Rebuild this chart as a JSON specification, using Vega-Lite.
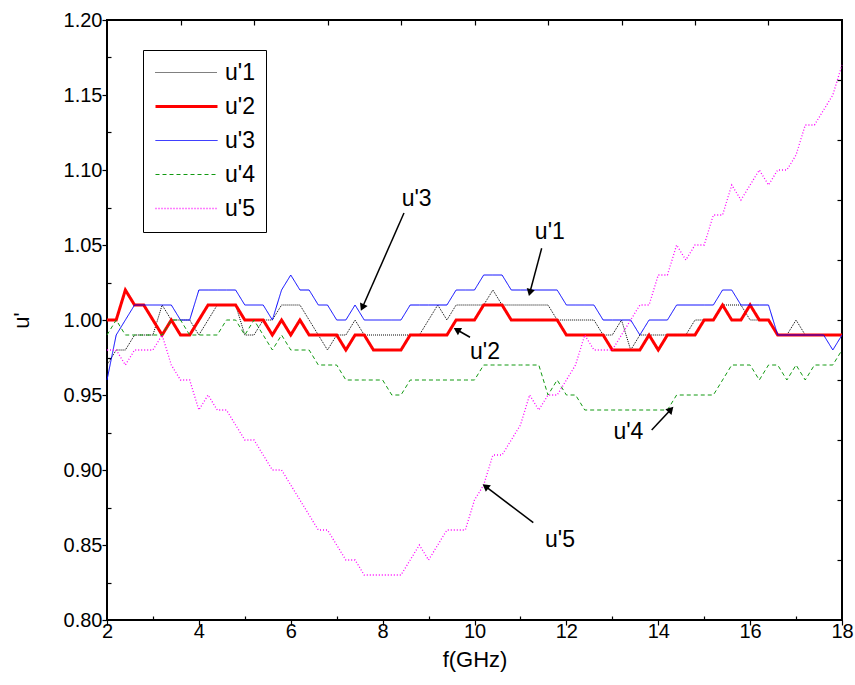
{
  "$schema": "https://vega.github.io/schema/vega-lite/v6.json",
  "width": 735,
  "height": 600,
  "autosize": "none",
  "padding": {"left": 107, "top": 20, "right": 13, "bottom": 65},
  "background": "white",
  "config": {
    "font": "Liberation Sans",
    "view": {"stroke": "black", "strokeWidth": 2},
    "axis": {"grid": false, "domain": false, "tickColor": "black", "labelColor": "black", "labelFont": "Liberation Sans", "labelFontSize": 20, "titleFont": "Liberation Sans", "titleFontSize": 22, "titleFontWeight": "normal", "titleColor": "black", "tickWidth": 1.2},
    "legend": {"orient": "none", "legendX": 36, "legendY": 30, "strokeColor": "black", "fillColor": "white", "padding": 11, "symbolType": "M-1,0H5.2", "symbolSize": 400, "labelFontSize": 23, "labelFont": "Liberation Sans", "labelColor": "black", "labelOffset": 48, "rowPadding": 10, "title": null}
  },
  "datasets": {
    "ann": [
      {"label": "u'3", "tx": 8.74, "ty": 1.0805, "x1": 8.465, "y1": 1.0713, "x2": 7.559, "y2": 1.0083},
      {"label": "u'1", "tx": 11.64, "ty": 1.0589, "x1": 11.462, "y1": 1.0478, "x2": 11.205, "y2": 1.0183},
      {"label": "u'2", "tx": 10.23, "ty": 0.9789, "x1": 9.902, "y1": 0.9885, "x2": 9.616, "y2": 0.9935},
      {"label": "u'4", "tx": 13.35, "ty": 0.9251, "x1": 13.857, "y1": 0.9267, "x2": 14.275, "y2": 0.9404},
      {"label": "u'5", "tx": 11.86, "ty": 0.8533, "x1": 11.28, "y1": 0.8649, "x2": 10.239, "y2": 0.8891}
    ]
  },
  "resolve": {"axis": {"x": "independent", "y": "independent"}},
  "layer": [
    {
      "data": {"values": [
        {"f":2.0,"u1":0.97,"u2":1.00,"u3":0.96,"u4":0.99,"u5":0.98},
        {"f":2.2,"u1":0.98,"u2":1.00,"u3":0.99,"u4":1.00,"u5":0.98},
        {"f":2.4,"u1":0.98,"u2":1.02,"u3":1.00,"u4":0.99,"u5":0.97},
        {"f":2.6,"u1":0.99,"u2":1.01,"u3":1.01,"u4":0.99,"u5":0.98},
        {"f":2.8,"u1":0.99,"u2":1.01,"u3":1.01,"u4":0.99,"u5":0.98},
        {"f":3.0,"u1":0.99,"u2":1.00,"u3":1.01,"u4":0.99,"u5":0.98},
        {"f":3.2,"u1":1.01,"u2":0.99,"u3":1.01,"u4":0.99,"u5":0.99},
        {"f":3.4,"u1":1.00,"u2":1.00,"u3":1.01,"u4":1.00,"u5":0.97},
        {"f":3.6,"u1":1.00,"u2":0.99,"u3":1.00,"u4":1.00,"u5":0.96},
        {"f":3.8,"u1":1.00,"u2":0.99,"u3":1.00,"u4":0.99,"u5":0.96},
        {"f":4.0,"u1":0.99,"u2":1.00,"u3":1.02,"u4":0.99,"u5":0.94},
        {"f":4.2,"u1":1.00,"u2":1.01,"u3":1.02,"u4":0.99,"u5":0.95},
        {"f":4.4,"u1":1.01,"u2":1.01,"u3":1.02,"u4":0.99,"u5":0.94},
        {"f":4.6,"u1":1.01,"u2":1.01,"u3":1.02,"u4":1.00,"u5":0.94},
        {"f":4.8,"u1":1.01,"u2":1.01,"u3":1.02,"u4":1.00,"u5":0.93},
        {"f":5.0,"u1":0.99,"u2":1.00,"u3":1.01,"u4":0.99,"u5":0.92},
        {"f":5.2,"u1":0.99,"u2":1.00,"u3":1.01,"u4":1.00,"u5":0.92},
        {"f":5.4,"u1":1.00,"u2":1.00,"u3":1.01,"u4":0.99,"u5":0.91},
        {"f":5.6,"u1":1.00,"u2":0.99,"u3":1.00,"u4":0.98,"u5":0.90},
        {"f":5.8,"u1":1.01,"u2":1.00,"u3":1.02,"u4":0.99,"u5":0.90},
        {"f":6.0,"u1":1.01,"u2":0.99,"u3":1.03,"u4":0.98,"u5":0.89},
        {"f":6.2,"u1":1.01,"u2":1.00,"u3":1.02,"u4":0.98,"u5":0.88},
        {"f":6.4,"u1":1.00,"u2":0.99,"u3":1.02,"u4":0.98,"u5":0.87},
        {"f":6.6,"u1":0.99,"u2":0.99,"u3":1.01,"u4":0.97,"u5":0.86},
        {"f":6.8,"u1":0.98,"u2":0.99,"u3":1.01,"u4":0.97,"u5":0.86},
        {"f":7.0,"u1":0.99,"u2":0.99,"u3":1.00,"u4":0.97,"u5":0.85},
        {"f":7.2,"u1":0.99,"u2":0.98,"u3":1.00,"u4":0.96,"u5":0.84},
        {"f":7.4,"u1":1.00,"u2":0.99,"u3":1.01,"u4":0.96,"u5":0.84},
        {"f":7.6,"u1":0.99,"u2":0.99,"u3":1.00,"u4":0.96,"u5":0.83},
        {"f":7.8,"u1":0.99,"u2":0.98,"u3":1.00,"u4":0.96,"u5":0.83},
        {"f":8.0,"u1":0.99,"u2":0.98,"u3":1.00,"u4":0.96,"u5":0.83},
        {"f":8.2,"u1":0.99,"u2":0.98,"u3":1.00,"u4":0.95,"u5":0.83},
        {"f":8.4,"u1":0.99,"u2":0.98,"u3":1.00,"u4":0.95,"u5":0.83},
        {"f":8.6,"u1":0.99,"u2":0.99,"u3":1.01,"u4":0.96,"u5":0.84},
        {"f":8.8,"u1":0.99,"u2":0.99,"u3":1.01,"u4":0.96,"u5":0.85},
        {"f":9.0,"u1":1.00,"u2":0.99,"u3":1.01,"u4":0.96,"u5":0.84},
        {"f":9.2,"u1":1.01,"u2":0.99,"u3":1.01,"u4":0.96,"u5":0.85},
        {"f":9.4,"u1":1.00,"u2":0.99,"u3":1.01,"u4":0.96,"u5":0.86},
        {"f":9.6,"u1":1.01,"u2":1.00,"u3":1.02,"u4":0.96,"u5":0.86},
        {"f":9.8,"u1":1.01,"u2":1.00,"u3":1.02,"u4":0.96,"u5":0.86},
        {"f":10.0,"u1":1.01,"u2":1.00,"u3":1.02,"u4":0.96,"u5":0.88},
        {"f":10.2,"u1":1.01,"u2":1.01,"u3":1.03,"u4":0.97,"u5":0.89},
        {"f":10.4,"u1":1.02,"u2":1.01,"u3":1.03,"u4":0.97,"u5":0.91},
        {"f":10.6,"u1":1.01,"u2":1.01,"u3":1.03,"u4":0.97,"u5":0.91},
        {"f":10.8,"u1":1.01,"u2":1.00,"u3":1.02,"u4":0.97,"u5":0.92},
        {"f":11.0,"u1":1.01,"u2":1.00,"u3":1.02,"u4":0.97,"u5":0.93},
        {"f":11.2,"u1":1.01,"u2":1.00,"u3":1.02,"u4":0.97,"u5":0.95},
        {"f":11.4,"u1":1.01,"u2":1.00,"u3":1.02,"u4":0.97,"u5":0.94},
        {"f":11.6,"u1":1.01,"u2":1.00,"u3":1.02,"u4":0.95,"u5":0.95},
        {"f":11.8,"u1":1.00,"u2":1.00,"u3":1.02,"u4":0.96,"u5":0.95},
        {"f":12.0,"u1":1.00,"u2":0.99,"u3":1.01,"u4":0.95,"u5":0.96},
        {"f":12.2,"u1":1.00,"u2":0.99,"u3":1.01,"u4":0.95,"u5":0.97},
        {"f":12.4,"u1":1.00,"u2":0.99,"u3":1.01,"u4":0.94,"u5":0.99},
        {"f":12.6,"u1":1.00,"u2":0.99,"u3":1.01,"u4":0.94,"u5":0.98},
        {"f":12.8,"u1":0.99,"u2":0.99,"u3":1.00,"u4":0.94,"u5":0.98},
        {"f":13.0,"u1":0.99,"u2":0.98,"u3":1.00,"u4":0.94,"u5":0.98},
        {"f":13.2,"u1":1.00,"u2":0.98,"u3":1.00,"u4":0.94,"u5":0.99},
        {"f":13.4,"u1":0.98,"u2":0.98,"u3":1.00,"u4":0.94,"u5":1.00},
        {"f":13.6,"u1":0.99,"u2":0.98,"u3":0.99,"u4":0.94,"u5":1.01},
        {"f":13.8,"u1":0.99,"u2":0.99,"u3":1.00,"u4":0.94,"u5":1.01},
        {"f":14.0,"u1":0.99,"u2":0.98,"u3":1.00,"u4":0.94,"u5":1.03},
        {"f":14.2,"u1":0.99,"u2":0.99,"u3":1.00,"u4":0.94,"u5":1.03},
        {"f":14.4,"u1":0.99,"u2":0.99,"u3":1.01,"u4":0.95,"u5":1.05},
        {"f":14.6,"u1":0.99,"u2":0.99,"u3":1.01,"u4":0.95,"u5":1.04},
        {"f":14.8,"u1":1.00,"u2":0.99,"u3":1.01,"u4":0.95,"u5":1.05},
        {"f":15.0,"u1":1.00,"u2":1.00,"u3":1.01,"u4":0.95,"u5":1.05},
        {"f":15.2,"u1":1.00,"u2":1.00,"u3":1.01,"u4":0.95,"u5":1.07},
        {"f":15.4,"u1":1.01,"u2":1.01,"u3":1.02,"u4":0.96,"u5":1.07},
        {"f":15.6,"u1":1.01,"u2":1.00,"u3":1.02,"u4":0.97,"u5":1.09},
        {"f":15.8,"u1":1.01,"u2":1.00,"u3":1.01,"u4":0.97,"u5":1.08},
        {"f":16.0,"u1":1.00,"u2":1.01,"u3":1.01,"u4":0.97,"u5":1.09},
        {"f":16.2,"u1":1.00,"u2":1.00,"u3":1.01,"u4":0.96,"u5":1.10},
        {"f":16.4,"u1":1.00,"u2":1.00,"u3":1.01,"u4":0.97,"u5":1.09},
        {"f":16.6,"u1":0.99,"u2":0.99,"u3":0.99,"u4":0.97,"u5":1.10},
        {"f":16.8,"u1":0.99,"u2":0.99,"u3":0.99,"u4":0.96,"u5":1.10},
        {"f":17.0,"u1":1.00,"u2":0.99,"u3":0.99,"u4":0.97,"u5":1.11},
        {"f":17.2,"u1":0.99,"u2":0.99,"u3":0.99,"u4":0.96,"u5":1.13},
        {"f":17.4,"u1":0.99,"u2":0.99,"u3":0.99,"u4":0.97,"u5":1.13},
        {"f":17.6,"u1":0.99,"u2":0.99,"u3":0.99,"u4":0.97,"u5":1.14},
        {"f":17.8,"u1":0.99,"u2":0.99,"u3":0.98,"u4":0.97,"u5":1.15},
        {"f":18.0,"u1":0.99,"u2":0.99,"u3":0.99,"u4":0.98,"u5":1.17}
      ]},
      "transform": [{"fold": ["u1", "u2", "u3", "u4", "u5"], "as": ["series", "value"]}],
      "mark": {"type": "line", "interpolate": "linear"},
      "encoding": {
        "x": {"field": "f", "type": "quantitative", "scale": {"domain": [2, 18], "nice": false, "zero": false},
          "axis": {"orient": "bottom", "title": "f(GHz)", "titlePadding": 8, "values": [2,3,4,5,6,7,8,9,10,11,12,13,14,15,16,17,18],
            "labelExpr": "datum.value % 2 === 0 ? datum.label : ''", "labelPadding": -4, "tickSize": {"condition": {"test": "datum.value % 2 === 0", "value": 5}, "value": -4}, "labelFlush": false}},
        "y": {"field": "value", "type": "quantitative", "scale": {"domain": [0.8, 1.2], "nice": false, "zero": false},
          "axis": {"orient": "left", "title": "u'", "titlePadding": 30, "values": [0.8,0.825,0.85,0.875,0.9,0.925,0.95,0.975,1.0,1.025,1.05,1.075,1.1,1.125,1.15,1.175,1.2],
            "labelExpr": "round(datum.value*1000) % 50 === 0 ? format(datum.value, '.2f') : ''", "labelPadding": 0, "tickSize": {"condition": {"test": "round(datum.value*1000) % 50 === 0", "value": 5}, "value": -4}, "labelFlush": false}},
        "color": {"field": "series", "type": "nominal", "scale": {"domain": ["u1","u2","u3","u4","u5"], "range": ["#000000","#ff0000","#0000ff","#119911","#ff00ff"]},
          "legend": {"labelExpr": "replace(datum.label, 'u', \"u'\")"}},
        "strokeDash": {"field": "series", "type": "nominal", "scale": {"domain": ["u1","u2","u3","u4","u5"], "range": [[1,1],[1,0],[1,0],[4,3],[1,2]]},
          "legend": {"labelExpr": "replace(datum.label, 'u', \"u'\")"}},
        "strokeWidth": {"field": "series", "type": "nominal", "scale": {"type": "ordinal", "domain": ["u1","u2","u3","u4","u5"], "range": [1,3,1,1,1.3]},
          "legend": {"labelExpr": "replace(datum.label, 'u', \"u'\")"}}
      }
    },
    {
      "data": {"name": "ann"},
      "mark": {"type": "text", "fontSize": 23, "font": "Liberation Sans", "color": "black", "align": "center", "baseline": "middle"},
      "encoding": {
        "x": {"field": "tx", "type": "quantitative", "axis": {"orient": "top", "title": null, "labels": false, "domain": false, "values": [3.6,5.2,6.8,8.4,10,11.6,13.2,14.8,16.4], "tickSize": -5}},
        "y": {"field": "ty", "type": "quantitative", "axis": {"orient": "right", "title": null, "labels": false, "domain": false, "values": [0.84,0.88,0.92,0.96,1.0,1.04,1.08,1.12,1.16], "tickSize": -5}},
        "text": {"field": "label"}
      }
    },
    {
      "data": {"name": "ann"},
      "mark": {"type": "rule", "color": "black", "strokeWidth": 1.5},
      "encoding": {
        "x": {"field": "x1", "type": "quantitative", "axis": null},
        "y": {"field": "y1", "type": "quantitative", "axis": null},
        "x2": {"field": "x2"},
        "y2": {"field": "y2"}
      }
    },
    {"data": {"name": "ann"}, "transform": [{"filter": "datum.label === \"u'3\""}], "mark": {"type": "point", "shape": "triangle-up", "filled": true, "color": "black", "opacity": 1, "size": 70, "angle": 203.7},
      "encoding": {"x": {"field": "x2", "type": "quantitative", "axis": null}, "y": {"field": "y2", "type": "quantitative", "axis": null}}},
    {"data": {"name": "ann"}, "transform": [{"filter": "datum.label === \"u'1\""}], "mark": {"type": "point", "shape": "triangle-up", "filled": true, "color": "black", "opacity": 1, "size": 70, "angle": 195},
      "encoding": {"x": {"field": "x2", "type": "quantitative", "axis": null}, "y": {"field": "y2", "type": "quantitative", "axis": null}}},
    {"data": {"name": "ann"}, "transform": [{"filter": "datum.label === \"u'2\""}], "mark": {"type": "point", "shape": "triangle-up", "filled": true, "color": "black", "opacity": 1, "size": 70, "angle": 300},
      "encoding": {"x": {"field": "x2", "type": "quantitative", "axis": null}, "y": {"field": "y2", "type": "quantitative", "axis": null}}},
    {"data": {"name": "ann"}, "transform": [{"filter": "datum.label === \"u'4\""}], "mark": {"type": "point", "shape": "triangle-up", "filled": true, "color": "black", "opacity": 1, "size": 70, "angle": 43},
      "encoding": {"x": {"field": "x2", "type": "quantitative", "axis": null}, "y": {"field": "y2", "type": "quantitative", "axis": null}}},
    {"data": {"name": "ann"}, "transform": [{"filter": "datum.label === \"u'5\""}], "mark": {"type": "point", "shape": "triangle-up", "filled": true, "color": "black", "opacity": 1, "size": 70, "angle": 307.3},
      "encoding": {"x": {"field": "x2", "type": "quantitative", "axis": null}, "y": {"field": "y2", "type": "quantitative", "axis": null}}}
  ]
}
